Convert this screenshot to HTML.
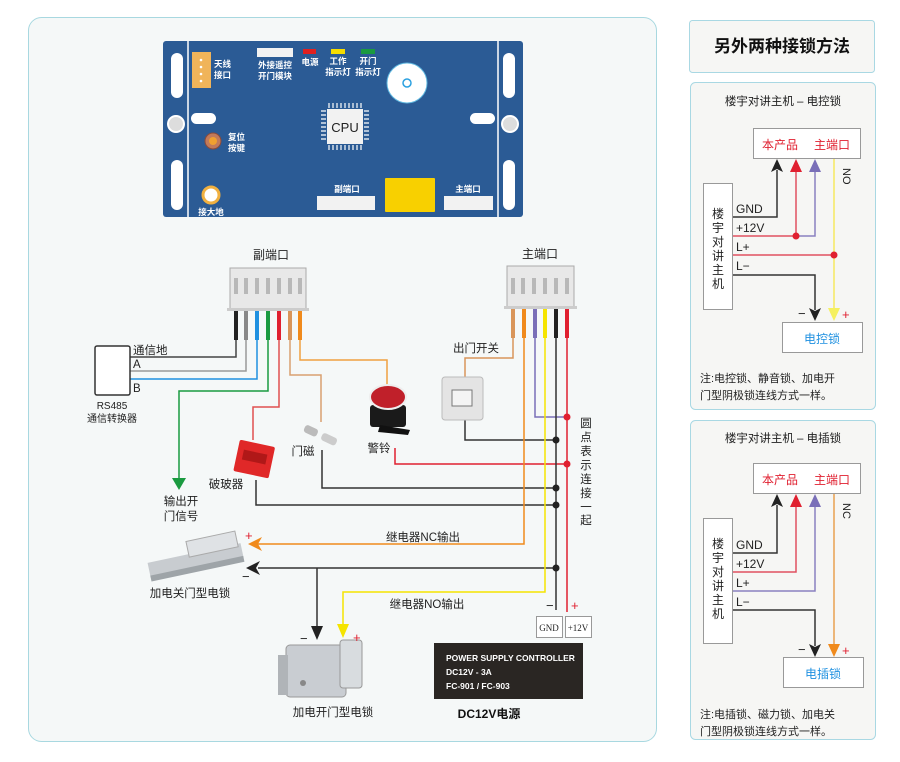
<!DOCTYPE html>
<html><head><meta charset="utf-8"><style>
html,body{margin:0;padding:0;background:#fff;}
svg{display:block;font-family:"Liberation Sans","Noto Sans CJK SC",sans-serif;}
</style></head><body>
<svg width="900" height="762" viewBox="0 0 900 762" xmlns="http://www.w3.org/2000/svg">
<defs>
<marker id="aB" markerWidth="10" markerHeight="10" refX="5" refY="9" orient="auto-start-reverse" markerUnits="userSpaceOnUse"><path d="M0,0 L5,9 L10,0 L5,3z" fill="#222"/></marker>
</defs>
<rect width="900" height="762" fill="#fff"/>
<!-- main panel -->
<rect x="28.5" y="17.5" width="628" height="724" rx="13" fill="#f5f8f8" stroke="#a8d8e0"/>
<!-- board -->
<rect x="163" y="41" width="360" height="176" rx="3" fill="#2b5b95"/>
<line x1="188" y1="41" x2="188" y2="217" stroke="#fff" stroke-width="1.5"/>
<line x1="498" y1="41" x2="498" y2="217" stroke="#fff" stroke-width="1.5"/>
<rect x="171" y="53" width="12" height="45" rx="6" fill="#fff"/>
<rect x="171" y="160" width="12" height="50" rx="6" fill="#fff"/>
<rect x="503" y="53" width="12" height="45" rx="6" fill="#fff"/>
<rect x="503" y="160" width="12" height="50" rx="6" fill="#fff"/>
<circle cx="176" cy="124" r="8" fill="#ddd" stroke="#fff" stroke-width="2"/>
<circle cx="510" cy="124" r="8" fill="#ddd" stroke="#fff" stroke-width="2"/>
<rect x="191" y="113" width="25" height="11" rx="5.5" fill="#fff"/>
<rect x="470" y="113" width="25" height="11" rx="5.5" fill="#fff"/>
<rect x="192" y="52" width="19" height="36" fill="#f0b45a"/>
<g fill="#fff"><circle cx="201" cy="60" r="1.3"/><circle cx="201" cy="67" r="1.3"/><circle cx="201" cy="74" r="1.3"/><circle cx="201" cy="81" r="1.3"/></g>
<g font-size="8.5" fill="#fff" font-weight="bold">
<text x="214" y="67">天线</text><text x="214" y="78">接口</text>
<text x="275" y="68" text-anchor="middle">外接遥控</text><text x="275" y="79" text-anchor="middle">开门模块</text>
<text x="310" y="65" text-anchor="middle">电源</text>
<text x="338" y="64" text-anchor="middle">工作</text><text x="338" y="75" text-anchor="middle">指示灯</text>
<text x="368" y="64" text-anchor="middle">开门</text><text x="368" y="75" text-anchor="middle">指示灯</text>
<text x="228" y="140">复位</text><text x="228" y="151">按键</text>
<text x="211" y="215" text-anchor="middle">接大地</text>
<text x="347" y="192" text-anchor="middle">副端口</text>
<text x="468" y="192" text-anchor="middle">主端口</text>
</g>
<rect x="257" y="48" width="36" height="9" fill="#f2f2f2"/>
<rect x="303" y="49" width="13" height="5" fill="#e02020"/>
<rect x="331" y="49" width="14" height="5" fill="#f5dc00"/>
<rect x="361" y="49" width="14" height="5" fill="#1a9a40"/>
<circle cx="407" cy="83" r="20" fill="#fff" stroke="#5fb8e0" stroke-width="1"/>
<circle cx="407" cy="83" r="4" fill="none" stroke="#2aa0e0" stroke-width="1.5"/>
<g stroke="#fff" stroke-width="1.2">
<path d="M329 103v5M333 103v5M337 103v5M341 103v5M345 103v5M349 103v5M353 103v5M357 103v5M361 103v5"/>
<path d="M329 145v5M333 145v5M337 145v5M341 145v5M345 145v5M349 145v5M353 145v5M357 145v5M361 145v5"/>
<path d="M321 111h5M321 115h5M321 119h5M321 123h5M321 127h5M321 131h5M321 135h5M321 139h5"/>
<path d="M364 111h5M364 115h5M364 119h5M364 123h5M364 127h5M364 131h5M364 135h5M364 139h5"/>
</g>
<rect x="327" y="109" width="36" height="35" fill="#f2f2f2"/>
<text x="345" y="132" font-size="13" text-anchor="middle" fill="#222">CPU</text>
<circle cx="213" cy="141" r="8" fill="#c27a5a" stroke="#8a4a3a"/>
<circle cx="213" cy="141" r="4" fill="#f0a030"/>
<circle cx="211" cy="195" r="8" fill="#fff" stroke="#f0b040" stroke-width="3"/>
<rect x="317" y="196" width="58" height="14" fill="#f2f2f2"/>
<rect x="444" y="196" width="49" height="14" fill="#f2f2f2"/>
<rect x="385" y="178" width="50" height="34" rx="1" fill="#f8d000"/>

<!-- connectors -->
<g>
<rect x="230" y="268" width="76" height="42" fill="#e8e8e8" stroke="#aaa"/>
<rect x="227" y="308" width="82" height="3" fill="#ccc"/>
<g fill="#b8b8b8"><rect x="234" y="278" width="4" height="16"/><rect x="244" y="278" width="4" height="16"/><rect x="255" y="278" width="4" height="16"/><rect x="266" y="278" width="4" height="16"/><rect x="277" y="278" width="4" height="16"/><rect x="288" y="278" width="4" height="16"/><rect x="298" y="278" width="4" height="16"/></g>
<rect x="507" y="266" width="67" height="42" fill="#e8e8e8" stroke="#aaa"/>
<rect x="504" y="306" width="73" height="3" fill="#ccc"/>
<g fill="#b8b8b8"><rect x="511" y="278" width="4" height="16"/><rect x="521" y="278" width="4" height="16"/><rect x="532" y="278" width="4" height="16"/><rect x="543" y="278" width="4" height="16"/><rect x="554" y="278" width="4" height="16"/><rect x="565" y="278" width="4" height="16"/></g>
</g>
<g font-size="12" fill="#222">
<text x="271" y="259" text-anchor="middle">副端口</text>
<text x="540" y="258" text-anchor="middle">主端口</text>
</g>
<!-- thick wire stubs -->
<g stroke-width="4">
<line x1="236" y1="311" x2="236" y2="340" stroke="#222"/>
<line x1="246" y1="311" x2="246" y2="340" stroke="#888"/>
<line x1="257" y1="311" x2="257" y2="340" stroke="#1e90e0"/>
<line x1="268" y1="311" x2="268" y2="340" stroke="#1a9a40"/>
<line x1="279" y1="311" x2="279" y2="340" stroke="#e02030"/>
<line x1="290" y1="311" x2="290" y2="340" stroke="#d9955a"/>
<line x1="300" y1="311" x2="300" y2="340" stroke="#f08a1c"/>
<line x1="513" y1="309" x2="513" y2="338" stroke="#d9955a"/>
<line x1="524" y1="309" x2="524" y2="338" stroke="#f08a1c"/>
<line x1="535" y1="309" x2="535" y2="338" stroke="#7a6fb8"/>
<line x1="545" y1="309" x2="545" y2="338" stroke="#f5e400"/>
<line x1="556" y1="309" x2="556" y2="338" stroke="#222"/>
<line x1="567" y1="309" x2="567" y2="338" stroke="#e02030"/>
</g>
<!-- thin wires -->
<g fill="none" stroke-width="1.5">
<polyline points="236,340 236,357 130,357" stroke="#444"/>
<polyline points="246,340 246,371 130,371" stroke="#999"/>
<polyline points="257,340 257,379 130,379" stroke="#1e90e0"/>
<polyline points="268,340 268,391 179,391 179,478" stroke="#1a9a40"/>
<polyline points="279,340 279,407 253,407 253,440" stroke="#e05050"/>
<polyline points="290,340 290,375 321,375 321,422" stroke="#d9a070"/>
<polyline points="300,340 300,360 387,360 387,387" stroke="#f0a040"/>
<polyline points="513,338 513,358 465,358 465,378" stroke="#d9955a"/>
<polyline points="465,420 465,440 556,440" stroke="#333"/>
<polyline points="535,338 535,417 567,417" stroke="#7a6fb8"/>
<polyline points="395,448 395,464 567,464" stroke="#e02030"/>
<polyline points="322,450 322,488 556,488" stroke="#333"/>
<polyline points="256,480 256,505 556,505" stroke="#333"/>
<polyline points="524,338 524,544 258,544" stroke="#f08a1c"/>
<polyline points="556,338 556,610" stroke="#333"/>
<polyline points="567,338 567,612" stroke="#e02030"/>
<polyline points="556,568 258,568" stroke="#333"/>
<polyline points="317,568 317,628" stroke="#333"/>
<polyline points="545,338 545,592 343,592 343,626" stroke="#f5e400"/>
</g>
<path d="M172,478 L186,478 L179,490z" fill="#1a9a40"/>
<path d="M248,544 L262,537 L258,544 L262,551z" fill="#f08a1c"/>
<path d="M246,568 L260,561 L256,568 L260,575z" fill="#222"/>
<path d="M311,626 L323,626 L317,640z" fill="#222"/>
<path d="M337,624 L349,624 L343,638z" fill="#f5e400"/>
<g fill="#e02030"><circle cx="567" cy="417" r="3.5"/><circle cx="567" cy="464" r="3.5"/></g>
<g fill="#222"><circle cx="556" cy="440" r="3.5"/><circle cx="556" cy="488" r="3.5"/><circle cx="556" cy="505" r="3.5"/><circle cx="556" cy="568" r="3.5"/></g>

<!-- devices -->
<rect x="95" y="346" width="35" height="49" rx="2" fill="#fff" stroke="#333" stroke-width="1.5"/>
<g transform="rotate(12 254 460)"><rect x="236" y="443" width="36" height="32" rx="2" fill="#e02828"/><rect x="242" y="452" width="24" height="10" fill="#b01818"/></g>
<g transform="rotate(25 320 435)"><rect x="303" y="431" width="14" height="8" rx="3" fill="#bbb"/><rect x="322" y="431" width="16" height="8" rx="3" fill="#ccc"/></g>
<rect x="370" y="405" width="36" height="22" rx="3" fill="#1a1a1a"/>
<path d="M380,425 L410,430 L408,435 L378,432z" fill="#111"/>
<ellipse cx="388" cy="397" rx="18" ry="12" fill="#c0202a" stroke="#eee" stroke-width="2"/>
<rect x="442" y="377" width="41" height="43" rx="3" fill="#e4e4e4" stroke="#bbb"/>
<rect x="452" y="390" width="20" height="16" fill="#f4f4f4" stroke="#777"/>
<!-- strike lock -->
<g transform="rotate(-12 195 560)"><rect x="148" y="553" width="95" height="15" fill="#c8ccd0"/><rect x="190" y="540" width="50" height="16" fill="#dfe2e5" stroke="#aaa"/><rect x="148" y="566" width="95" height="6" fill="#9ea4a8"/></g>
<!-- rim lock -->
<rect x="286" y="645" width="60" height="52" rx="4" fill="#c9cdd2" stroke="#999"/>
<rect x="278" y="655" width="10" height="40" fill="#b0b4b8"/>
<rect x="340" y="640" width="22" height="48" rx="3" fill="#d8dcdf" stroke="#999"/>
<circle cx="303" cy="683" r="3" fill="#888"/>
<!-- power -->
<rect x="536.5" y="616.5" width="26" height="21" fill="#fff" stroke="#999"/>
<rect x="565.5" y="616.5" width="26" height="21" fill="#fff" stroke="#999"/>
<text x="549" y="631" font-size="9" font-family="Liberation Serif,serif" text-anchor="middle" fill="#222">GND</text>
<text x="578" y="631" font-size="9" font-family="Liberation Serif,serif" text-anchor="middle" fill="#222">+12V</text>
<rect x="434" y="643" width="149" height="56" fill="#2a2623"/>
<g font-size="8.5" font-weight="bold" fill="#fff"><text x="446" y="661">POWER SUPPLY CONTROLLER</text><text x="446" y="675">DC12V - 3A</text><text x="446" y="689">FC-901 / FC-903</text></g>
<text x="489" y="718" font-size="12" font-weight="bold" text-anchor="middle" fill="#111">DC12V电源</text>

<!-- labels -->
<g font-size="11.5" fill="#222">
<text x="133" y="354">通信地</text>
<text x="133" y="368">A</text>
<text x="133" y="392">B</text>
<text x="112" y="409" text-anchor="middle" font-size="10">RS485</text>
<text x="112" y="422" text-anchor="middle" font-size="10">通信转换器</text>
<text x="181" y="505" text-anchor="middle">输出开</text>
<text x="181" y="520" text-anchor="middle">门信号</text>
<text x="226" y="488" text-anchor="middle">破玻器</text>
<text x="303" y="455" text-anchor="middle">门磁</text>
<text x="379" y="452" text-anchor="middle">警铃</text>
<text x="476" y="352" text-anchor="middle">出门开关</text>
<text x="423" y="541" text-anchor="middle">继电器NC输出</text>
<text x="427" y="608" text-anchor="middle">继电器NO输出</text>
<text x="190" y="597" text-anchor="middle">加电关门型电锁</text>
<text x="333" y="716" text-anchor="middle">加电开门型电锁</text>
<g text-anchor="middle"><text x="586" y="427">圆</text><text x="586" y="441">点</text><text x="586" y="455">表</text><text x="586" y="469">示</text><text x="586" y="483">连</text><text x="586" y="497">接</text><text x="586" y="511">一</text><text x="586" y="524">起</text></g>
</g>
<g font-size="13" fill="#e02030"><text x="245" y="540">+</text><text x="353" y="642">+</text><text x="571" y="610">+</text></g>
<g font-size="13" fill="#222"><text x="242" y="581">−</text><text x="300" y="643">−</text><text x="546" y="610">−</text></g>

<!-- right title -->
<rect x="689.5" y="20.5" width="185" height="52" rx="3" fill="#f6f6f4" stroke="#a9d8e3"/>
<text x="782" y="52" font-size="17" font-weight="bold" text-anchor="middle" fill="#111">另外两种接锁方法</text>

<!-- panel 1 -->
<rect x="690.5" y="82.5" width="185" height="327" rx="5" fill="#f6f6f4" stroke="#a9d8e3"/>
<text x="783" y="105" font-size="11.5" text-anchor="middle" fill="#222">楼宇对讲主机 – 电控锁</text>
<rect x="753.5" y="128.5" width="107" height="30" fill="#fff" stroke="#999"/>
<text x="780" y="149" font-size="12" text-anchor="middle" fill="#e02030">本产品</text>
<text x="832" y="149" font-size="12" text-anchor="middle" fill="#e02030">主端口</text>
<rect x="703.5" y="183.5" width="29" height="126" fill="#fff" stroke="#999"/>
<g font-size="12" text-anchor="middle" fill="#222"><text x="718" y="218">楼</text><text x="718" y="232">宇</text><text x="718" y="246">对</text><text x="718" y="260">讲</text><text x="718" y="274">主</text><text x="718" y="288">机</text></g>
<g font-size="12" fill="#222"><text x="736" y="213">GND</text><text x="736" y="232">+12V</text><text x="736" y="251">L+</text><text x="736" y="270">L−</text></g>
<g fill="none" stroke-width="1.5">
<polyline points="733,217 777,217 777,170" stroke="#333"/>
<polyline points="733,236 796,236 796,170" stroke="#e05060"/>
<polyline points="796,236 815,236 815,170" stroke="#8a80c0"/>
<polyline points="733,255 834,255" stroke="#e05060"/>
<polyline points="834,159 834,310" stroke="#f5e860"/>
<polyline points="733,275 815,275 815,310" stroke="#333"/>
</g>
<path d="M771,172 L777,159 L783,172 L777,169z" fill="#222"/>
<path d="M790,172 L796,159 L802,172z" fill="#e02030"/>
<path d="M809,172 L815,159 L821,172z" fill="#7a6fb8"/>
<path d="M809,308 L815,321 L821,308 L815,311z" fill="#222"/>
<path d="M828,308 L834,321 L840,308z" fill="#f5f060"/>
<circle cx="796" cy="236" r="3.5" fill="#e02030"/><circle cx="834" cy="255" r="3.5" fill="#e02030"/>
<text x="843" y="168" font-size="11" fill="#222" transform="rotate(90 843 168)">NO</text>
<text x="798" y="318" font-size="13" fill="#222">−</text><text x="842" y="319" font-size="13" fill="#e02030">+</text>
<rect x="782.5" y="322.5" width="80" height="30" fill="#fff" stroke="#999"/>
<text x="822" y="343" font-size="12" text-anchor="middle" fill="#1e90e0">电控锁</text>
<text x="700" y="382" font-size="11" fill="#222">注:电控锁、静音锁、加电开</text>
<text x="700" y="399" font-size="11" fill="#222">门型阴极锁连线方式一样。</text>

<!-- panel 2 -->
<rect x="690.5" y="420.5" width="185" height="319" rx="5" fill="#f6f6f4" stroke="#a9d8e3"/>
<text x="783" y="442" font-size="11.5" text-anchor="middle" fill="#222">楼宇对讲主机 – 电插锁</text>
<rect x="753.5" y="463.5" width="107" height="30" fill="#fff" stroke="#999"/>
<text x="780" y="484" font-size="12" text-anchor="middle" fill="#e02030">本产品</text>
<text x="832" y="484" font-size="12" text-anchor="middle" fill="#e02030">主端口</text>
<rect x="703.5" y="518.5" width="29" height="125" fill="#fff" stroke="#999"/>
<g font-size="12" text-anchor="middle" fill="#222"><text x="718" y="548">楼</text><text x="718" y="562">宇</text><text x="718" y="576">对</text><text x="718" y="590">讲</text><text x="718" y="604">主</text><text x="718" y="618">机</text></g>
<g font-size="12" fill="#222"><text x="736" y="549">GND</text><text x="736" y="568">+12V</text><text x="736" y="587">L+</text><text x="736" y="606">L−</text></g>
<g fill="none" stroke-width="1.5">
<polyline points="733,553 777,553 777,505" stroke="#333"/>
<polyline points="733,572 796,572 796,505" stroke="#e05060"/>
<polyline points="733,591 815,591 815,505" stroke="#8a80c0"/>
<polyline points="834,494 834,646" stroke="#e8a050"/>
<polyline points="733,610 815,610 815,646" stroke="#333"/>
</g>
<path d="M771,507 L777,494 L783,507 L777,504z" fill="#222"/>
<path d="M790,507 L796,494 L802,507z" fill="#e02030"/>
<path d="M809,507 L815,494 L821,507z" fill="#7a6fb8"/>
<path d="M809,644 L815,657 L821,644 L815,647z" fill="#222"/>
<path d="M828,644 L834,657 L840,644z" fill="#f08a1c"/>
<text x="843" y="503" font-size="11" fill="#222" transform="rotate(90 843 503)">NC</text>
<text x="798" y="654" font-size="13" fill="#222">−</text><text x="842" y="655" font-size="13" fill="#e02030">+</text>
<rect x="783.5" y="657.5" width="80" height="30" fill="#fff" stroke="#999"/>
<text x="823" y="678" font-size="12" text-anchor="middle" fill="#1e90e0">电插锁</text>
<text x="700" y="718" font-size="11" fill="#222">注:电插锁、磁力锁、加电关</text>
<text x="700" y="735" font-size="11" fill="#222">门型阴极锁连线方式一样。</text>
</svg>
</body></html>
